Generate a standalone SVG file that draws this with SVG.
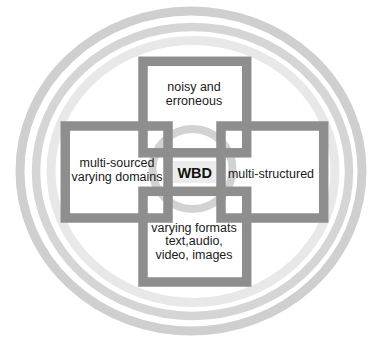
<svg xmlns="http://www.w3.org/2000/svg" width="368" height="338" viewBox="0 0 368 338">
  <style>
    .ring { fill: none; }
    .frame { fill: none; stroke: #8e8e8e; stroke-width: 9.5; }
    .lbl { font-family: "Liberation Sans", Arial, sans-serif; font-size: 12.5px; fill: #1a1a1a; text-anchor: middle; }
    .core { font-family: "Liberation Sans", Arial, sans-serif; font-size: 14.5px; font-weight: bold; fill: #111; text-anchor: middle; }
  </style>
  <rect width="368" height="338" fill="#ffffff"/>

  <!-- concentric background rings -->
  <g id="rings">
    <ellipse class="ring" cx="191" cy="171" rx="171" ry="160" stroke="#cfcfcf" stroke-width="9"/>
    <ellipse class="ring" cx="192.5" cy="171.5" rx="156.5" ry="144.5" stroke="#d5d5d5" stroke-width="8.5"/>
    <ellipse class="ring" cx="193" cy="171.5" rx="142" ry="131" stroke="#e8e8e8" stroke-width="9"/>
    <circle class="ring" cx="192.5" cy="169" r="40" stroke="#d2d2d2" stroke-width="8"/>
  </g>

  <g id="core">
    <rect x="173" y="161" width="43" height="22" fill="#ececec"/>
    <text class="core" x="194.7" y="177.7">WBD</text>
  </g>

  <g id="noisy">
    <rect class="frame" x="143" y="61.3" width="103.7" height="91.5"/>
    <text class="lbl" x="194" y="90.7">noisy and</text>
    <text class="lbl" x="194" y="104.5">erroneous</text>
  </g>

  <g id="multi-sourced">
    <rect class="frame" x="65.3" y="126" width="102.7" height="92"/>
    <text class="lbl" x="117" y="166.7">multi-sourced</text>
    <text class="lbl" x="117" y="180.5">varying domains</text>
  </g>

  <g id="multi-structured">
    <rect class="frame" x="221" y="126" width="102.7" height="92"/>
    <text class="lbl" x="271" y="178.3">multi-structured</text>
  </g>

  <g id="formats">
    <rect class="frame" x="143" y="191.3" width="103.7" height="90.7"/>
    <text class="lbl" x="194" y="232">varying formats</text>
    <text class="lbl" x="194" y="245">text,audio,</text>
    <text class="lbl" x="194" y="258.5">video, images</text>
  </g>
</svg>
